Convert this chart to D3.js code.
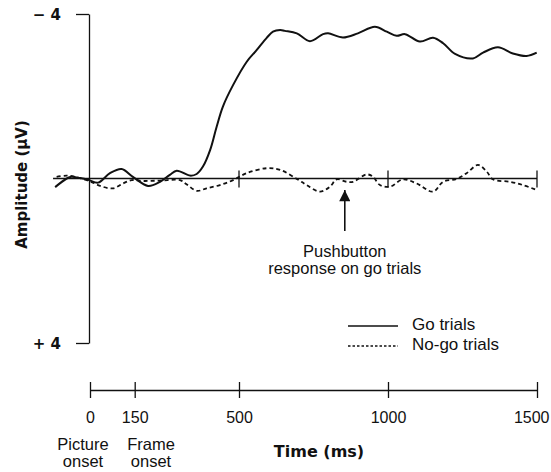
<!DOCTYPE html>
<html><head><meta charset="utf-8">
<script src="https://cdn.jsdelivr.net/npm/d3@7"></script>
<style>
body{margin:0;background:#fff;}
text{fill:#111;}
</style></head>
<body><svg id="c" width="551" height="472"></svg>
<script>
// Data (time in ms, amplitude in µV; negative plotted upward)
const goTime = [-117,-78,-62,-34,-3,27,67,106,144,195,235,268,291,336,358,379,403,425,446,480,526,559,593,614,638,654,694,738,782,799,849,899,956,996,1029,1057,1107,1151,1185,1225,1285,1319,1369,1419,1465,1499];
const goAmp  = [0.21,0.0,-0.04,-0.01,0.04,0.10,-0.13,-0.23,-0.04,0.18,0.08,-0.09,-0.19,-0.07,-0.11,-0.29,-0.69,-1.26,-1.75,-2.27,-2.84,-3.12,-3.42,-3.57,-3.61,-3.59,-3.53,-3.34,-3.51,-3.53,-3.43,-3.53,-3.69,-3.57,-3.47,-3.51,-3.33,-3.42,-3.29,-3.03,-2.92,-3.06,-3.19,-3.04,-2.98,-3.06];
const nogoTime = [-112,-78,-50,-3,34,77,111,140,178,235,302,324,358,391,436,480,526,593,638,694,727,772,805,828,861,883,928,950,973,1007,1050,1096,1151,1185,1230,1264,1302,1331,1352,1409,1453,1499];
const nogoAmp  = [-0.04,-0.07,-0.04,0.06,0.18,0.24,0.12,0.04,0.06,0.05,0.04,0.14,0.30,0.24,0.16,0.04,-0.13,-0.25,-0.21,0.01,0.16,0.32,0.20,0.02,0.08,0.08,-0.10,-0.04,0.16,0.20,0.02,0.12,0.32,0.08,0.01,-0.13,-0.33,-0.17,0.02,0.08,0.16,0.28];
const timeTicks = [0,150,500,1000,1500];
const timeTickLabels = ["0","150","500","1000","1500"];
const baselineTicks = [500,1000,1500];
const ampTicks = [-4,4];
const ampTickLabels = ["\u2212 4","+ 4"];
const responseTime = 855;
const baselineStart = -124;
const legendLabels = ["Go trials","No-go trials"];

const svg = d3.select("#c");
const x = d3.scaleLinear().domain([0,1500]).range([90,537]);
const y = d3.scaleLinear().domain([-4,4]).range([14,343]);
const sans = "'Liberation Sans', Arial, sans-serif";
const bold = "'DejaVu Sans', sans-serif";

// Y axis
const yAxis = d3.axisLeft(y).tickValues(ampTicks).tickSize(13).tickSizeOuter(0).tickFormat((d,i)=>ampTickLabels[i]);
const ya = svg.append("g").attr("transform",`translate(${x(0)-1},0)`).call(yAxis);
ya.select(".domain").attr("stroke","#111").attr("stroke-width",1.3);
ya.selectAll(".tick line").attr("stroke","#111").attr("stroke-width",1.3);
ya.selectAll(".tick text").attr("x",-28).attr("dy","0.35em")
  .style("font-family",bold).style("font-weight","bold").style("font-size","15px").attr("fill","#111");

svg.append("text").attr("transform",`translate(27,${y(0)+6}) rotate(-90)`)
  .attr("text-anchor","middle").style("font-family",bold).style("font-weight","bold").style("font-size","15px")
  .text("Amplitude (\u00B5V)");

// Zero baseline with ticks
svg.append("line").attr("x1",x(baselineStart)).attr("x2",x(1500)).attr("y1",y(0)).attr("y2",y(0))
  .attr("stroke","#111").attr("stroke-width",1.7);
svg.selectAll(".btick").data(baselineTicks).enter().append("line")
  .attr("x1",d=>x(d)).attr("x2",d=>x(d)).attr("y1",y(0)-8).attr("y2",y(0)+9)
  .attr("stroke","#111").attr("stroke-width",1.3);

// Curves
const lineGen = d3.line().x(d=>x(d[0])).y(d=>y(d[1])).curve(d3.curveCatmullRom.alpha(0.5));
svg.append("path").datum(nogoTime.map((t,i)=>[t,nogoAmp[i]])).attr("d",lineGen)
  .attr("fill","none").attr("stroke","#111").attr("stroke-width",1.8).attr("stroke-dasharray","4,3");
svg.append("path").datum(goTime.map((t,i)=>[t,goAmp[i]])).attr("d",lineGen)
  .attr("fill","none").attr("stroke","#111").attr("stroke-width",2);

// Arrow
svg.append("defs").append("marker").attr("id","ah").attr("viewBox","0 0 10 10").attr("refX",10).attr("refY",5)
  .attr("markerWidth",8).attr("markerHeight",7).attr("markerUnits","strokeWidth").attr("orient","auto")
  .append("path").attr("d","M0,0 L10,5 L0,10 z").attr("fill","#111");
svg.append("line").attr("x1",x(responseTime)).attr("x2",x(responseTime)).attr("y1",231).attr("y2",190)
  .attr("stroke","#111").attr("stroke-width",1.6).attr("marker-end","url(#ah)");
const ann = svg.append("text").attr("text-anchor","middle").style("font-family",sans).style("font-size","16.5px");
ann.append("tspan").attr("x",x(responseTime)).attr("y",257).text("Pushbutton");
ann.append("tspan").attr("x",x(responseTime)).attr("y",274).text("response on go trials");

// Legend
const lg = svg.append("g");
legendLabels.forEach((lab,i)=>{
  lg.append("line").attr("x1",348).attr("x2",398).attr("y1",326+i*20).attr("y2",326+i*20)
    .attr("stroke","#111").attr("stroke-width",1.4).attr("stroke-dasharray",i?"2.5,2":null);
  lg.append("text").attr("x",412).attr("y",330+i*20).style("font-family",sans).style("font-size","17px").text(lab);
});

// Time axis
const xAxis = d3.axisBottom(x).tickValues(timeTicks).tickSizeOuter(0).tickFormat((d,i)=>timeTickLabels[i]);
const xa = svg.append("g").attr("transform","translate(0,390)").call(xAxis);
xa.select(".domain").attr("stroke","#111").attr("stroke-width",1.3);
xa.selectAll(".tick line").attr("y1",-8).attr("y2",8).attr("stroke","#111").attr("stroke-width",1.3);
xa.selectAll(".tick text").attr("y",33).attr("dy",0).style("font-family",sans).style("font-size","16px").attr("fill","#111");
xa.selectAll(".tick text").filter(d=>d===1500).attr("text-anchor","end").attr("x",12);

// Event labels
[["Picture","onset",83],["Frame","onset",151]].forEach(([a,b,cx])=>{
  const t = svg.append("text").attr("text-anchor","middle").style("font-family",sans).style("font-size","16.5px");
  t.append("tspan").attr("x",cx).attr("y",450).text(a);
  t.append("tspan").attr("x",cx).attr("y",467).text(b);
});
svg.append("text").attr("x",319).attr("y",457).attr("text-anchor","middle")
  .style("font-family",bold).style("font-weight","bold").style("font-size","16px").text("Time (ms)");
</script></body></html>
